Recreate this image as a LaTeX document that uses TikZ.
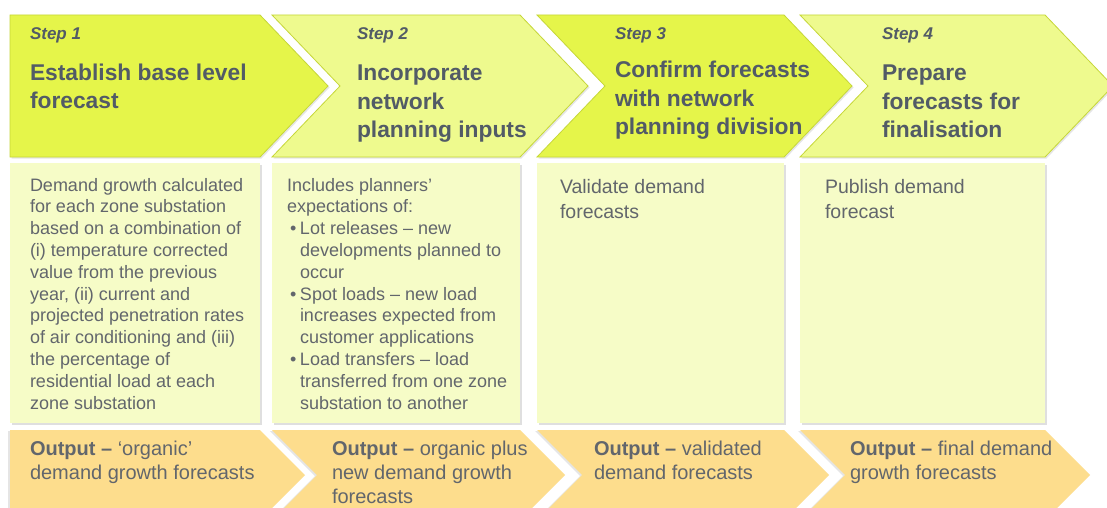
\documentclass[tikz,border=0pt]{standalone}
\usepackage{fontspec}
\setmainfont{Liberation Sans}
\usepackage{xcolor}
\usetikzlibrary{shadows}
\definecolor{stepdark}{RGB}{229,245,74}
\definecolor{steplight}{RGB}{238,250,142}
\definecolor{stepline}{RGB}{198,215,56}
\definecolor{bodyfill}{RGB}{246,252,199}
\definecolor{outfill}{RGB}{253,221,141}
\definecolor{titlegray}{RGB}{82,91,102}
\definecolor{textgray}{RGB}{98,102,108}
\begin{document}
\begin{tikzpicture}[x=1pt, y=-1pt, outer sep=0pt, inner sep=0pt,
    stepshape/.style={draw=stepline, line width=0.8pt, drop shadow={shadow xshift=1.5pt, shadow yshift=-1.5pt, opacity=0.2}},
    bodyshape/.style={fill=bodyfill, drop shadow={shadow xshift=2pt, shadow yshift=-2pt, opacity=0.25}},
    outshape/.style={fill=outfill, drop shadow={shadow xshift=-2pt, shadow yshift=-1pt, opacity=0.2}},
    steplabel/.style={anchor=base west, align=left, text=titlegray, font=\fontsize{17}{20}\selectfont\bfseries\itshape},
    titletext/.style={anchor=base west, align=left, text=titlegray, font=\fontsize{22.8}{28}\selectfont\bfseries},
    bodytext/.style={anchor=base west, align=left, text=textgray, font=\fontsize{18}{21.8}\selectfont},
    outtext/.style={anchor=base west, align=left, text=textgray, font=\fontsize{20}{24}\selectfont}]
    \clip (0,0) rectangle (1107,508);
    \fill[white] (0,0) rectangle (1107,508);

    \foreach \l/\r/\n/\c in {10/260/0/stepdark, 272/520/1/steplight, 537/784/1/stepdark, 800/1045/1/steplight} {
        \path[stepshape, fill=\c] (\l,15) -- (\r,15) -- (\r+68,86) -- (\r,157) -- (\l,157) -- (\l+68*\n,86) -- cycle;
        \path[bodyshape] (\l,163) rectangle (\r,423);
        \path[outshape] (\l,430) -- (\r,430) -- (\r+45,475) -- (\r,520) -- (\l,520) -- (\l+45*\n,475) -- cycle;
    }

    % text nodes sit on the baseline of their last line
    \node[steplabel] (step1) at (30,40) {Step 1};
    \node[titletext] (title1) at (30,109) {Establish base level\\forecast};
    \node[bodytext] (body1) at (30,409) {Demand growth calculated\\for each zone substation\\based on a combination of\\(i) temperature corrected\\value from the previous\\year, (ii) current and\\projected penetration rates\\of air conditioning and (iii)\\the percentage of\\residential load at each\\zone substation};
    \node[outtext] (out1) at (30,479) {\textbf{Output --} ‘organic’\\demand growth forecasts};

    \node[steplabel] (step2) at (357,40) {Step 2};
    \node[titletext] (title2) at (357,137) {Incorporate\\network\\planning inputs};
    \node[bodytext] (body2) at (287,409) {Includes planners’\\expectations of:\\\hspace*{3pt}\makebox[10pt][l]{\textbullet}Lot releases -- new\\\hspace*{13pt}developments planned to\\\hspace*{13pt}occur\\\hspace*{3pt}\makebox[10pt][l]{\textbullet}Spot loads -- new load\\\hspace*{13pt}increases expected from\\\hspace*{13pt}customer applications\\\hspace*{3pt}\makebox[10pt][l]{\textbullet}Load transfers -- load\\\hspace*{13pt}transferred from one zone\\\hspace*{13pt}substation to another};
    \node[outtext] (out2) at (332,503) {\textbf{Output --} organic plus\\new demand growth\\forecasts};

    \node[steplabel] (step3) at (615,40) {Step 3};
    \node[titletext] (title3) at (615,134) {Confirm forecasts\\with network\\planning division};
    \node[bodytext, font=\fontsize{19.5}{25}\selectfont] (body3) at (560,218) {Validate demand\\forecasts};
    \node[outtext] (out3) at (594,479) {\textbf{Output --} validated\\demand forecasts};

    \node[steplabel] (step4) at (882,40) {Step 4};
    \node[titletext] (title4) at (882,137) {Prepare\\forecasts for\\finalisation};
    \node[bodytext, font=\fontsize{19.5}{25}\selectfont] (body4) at (825,218) {Publish demand\\forecast};
    \node[outtext] (out4) at (850,479) {\textbf{Output --} final demand\\growth forecasts};
\end{tikzpicture}
\end{document}
